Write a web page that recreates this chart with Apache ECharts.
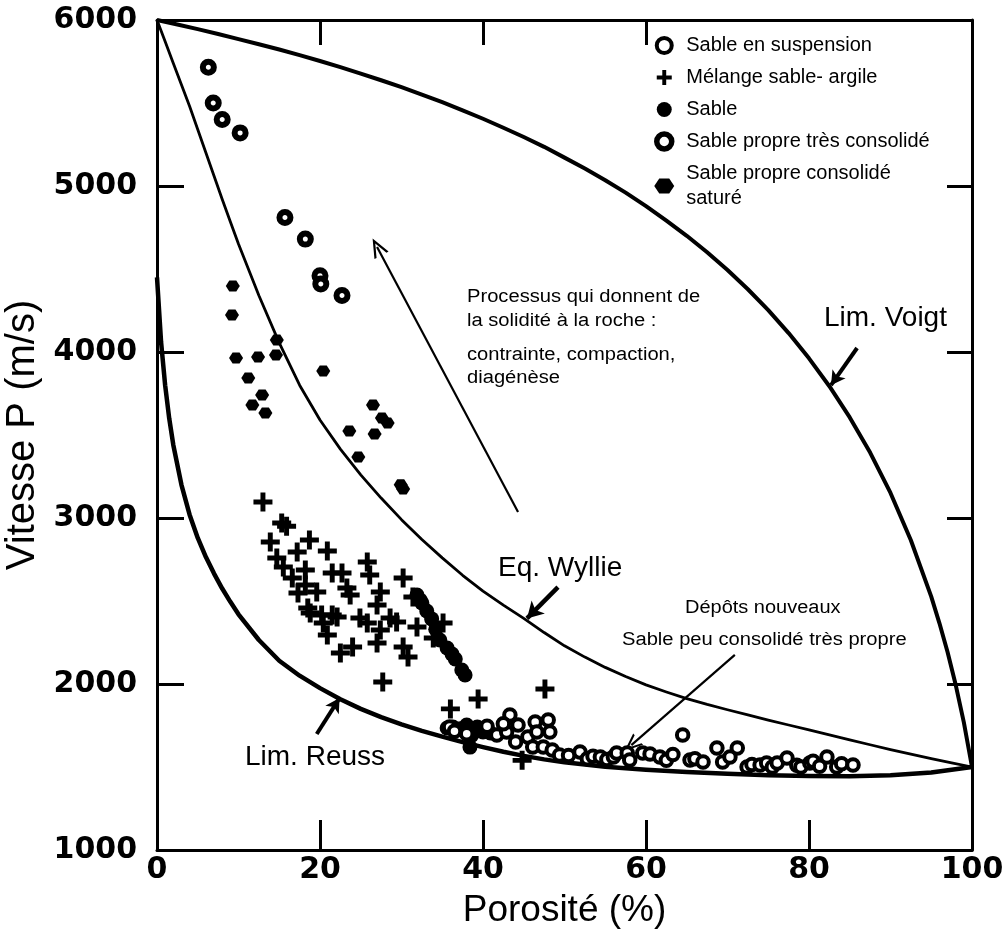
<!DOCTYPE html>
<html><head><meta charset="utf-8">
<script src="https://cdn.jsdelivr.net/npm/echarts@6/dist/echarts.min.js"></script>
<style>html,body{margin:0;padding:0;background:#fff}#c{width:1003px;height:934px}</style>
</head><body><div id="c"></div>
<script>
// ---- axes ----
const xRange = [0, 100];
const yRange = [1000, 6000];
const xStep = 20;
const yStep = 1000;

// ---- bounds / model curves [porosity %, Vp m/s] ----
const voigtCurve = [[0,6000],[2.5,5973],[5,5945],[7.5,5916],[10,5885],[12.5,5854],[15,5822],[17.5,5788],[20,5753],[22.5,5716],[25,5677],[27.5,5637],[30,5595],[32.5,5551],[35,5505],[37.5,5456],[40,5405],[42.5,5351],[45,5295],[47.5,5236],[50,5171],[52.5,5105],[55,5035],[57.5,4960],[60,4879],[62.5,4792],[65,4700],[67.5,4601],[70,4494],[72.5,4378],[75,4252],[77.5,4114],[80,3962],[82.5,3794],[85,3606],[87.5,3394],[90,3151],[92.5,2866],[95,2526],[96,2367],[97,2193],[98,1995],[99,1769],[100,1500]];
const wyllieCurve = [[0,6000],[1,5870],[2,5740],[3,5610],[4,5480],[5,5340],[6,5200],[7,5060],[8,4920],[9,4785],[10,4650],[12.5,4340],[15,4055],[17.5,3800],[20,3590],[22.5,3415],[25,3260],[27.5,3120],[30,2990],[32.5,2870],[35,2760],[37.5,2655],[40,2560],[42.5,2475],[45,2395],[47.5,2310],[50,2230],[52.5,2162],[55,2100],[57.5,2045],[60,1995],[62.5,1952],[65,1912],[67.5,1877],[70,1845],[72.5,1814],[75,1783],[77.5,1753],[80,1723],[82.5,1693],[85,1663],[87.5,1634],[90,1605],[92.5,1577],[95,1550],[97.5,1525],[100,1500]];
const reussCurve = [[0,4450],[0.5,4060],[1,3800],[1.5,3600],[2,3440],[3,3200],[4,3020],[5,2880],[6,2765],[7,2665],[8,2575],[9,2495],[10,2420],[12.5,2265],[15,2140],[17.5,2050],[20,1975],[22.5,1908],[25,1850],[27.5,1800],[30,1757],[32.5,1718],[35,1683],[37.5,1650],[40,1620],[42.5,1592],[45,1567],[47.5,1546],[50,1528],[55,1502],[60,1484],[65,1470],[70,1459],[75,1451],[80,1446],[85,1445],[90,1450],[95,1467],[100,1500]];

// ---- measurements ----
const sableSuspension = [[35.9,1741],[36.5,1715],[38.0,1700],[40.5,1745],[41.7,1693],[42.9,1711],[43.3,1813],[44.3,1753],[45.5,1681],[46.4,1771],[46.6,1711],[48.0,1783],[48.2,1711],[46.1,1620],[47.4,1620],[48.5,1602],[49.4,1572],[44.0,1650],[42.5,1760],[50.5,1570],[51.9,1590],[52.8,1550],[53.5,1565],[54.4,1560],[55.2,1545],[56.0,1560],[56.4,1584],[57.7,1584],[58.0,1542],[59.6,1584],[60.5,1578],[61.7,1560],[62.5,1540],[63.3,1575],[64.5,1693],[65.4,1542],[66.0,1550],[67.0,1530],[68.7,1614],[71.2,1614],[69.4,1530],[70.3,1560],[72.4,1500],[73.0,1515],[74.0,1512],[74.8,1524],[75.5,1500],[76.1,1524],[77.3,1554],[78.5,1510],[79.0,1500],[80.1,1524],[80.5,1535],[81.3,1505],[82.2,1560],[83.4,1500],[84.0,1520],[85.4,1512]];
const melangeSableArgile = [[13.0,3096],[15.3,2970],[15.9,2950],[13.9,2855],[18.7,2867],[20.9,2801],[17.2,2795],[14.7,2759],[15.5,2705],[18.2,2687],[21.5,2669],[22.7,2669],[25.8,2735],[26.1,2657],[16.6,2639],[18.2,2596],[19.6,2554],[23.3,2578],[23.7,2536],[27.4,2554],[30.2,2639],[17.3,2548],[18.5,2458],[18.8,2428],[20.2,2416],[21.5,2416],[22.1,2404],[27.0,2476],[24.9,2398],[28.6,2398],[29.4,2374],[20.4,2368],[25.8,2368],[27.4,2325],[31.9,2343],[20.9,2295],[27.0,2247],[24.0,2223],[22.5,2187],[30.2,2223],[30.8,2163],[33.9,2277],[35.1,2368],[31.4,2524],[27.7,2012],[39.4,1910],[47.6,1970],[36.0,1850],[44.8,1540]];
const sable = [[31.9,2536],[32.3,2505],[32.5,2488],[33.1,2440],[33.7,2392],[34.2,2330],[34.7,2265],[35.6,2217],[36.2,2180],[36.6,2151],[37.4,2084],[37.8,2054],[38.4,1620],[35.6,1735],[36.3,1741],[37.2,1730],[38.0,1753],[39.3,1741],[40.0,1711],[40.9,1705],[38.6,1690]];
const sableTresConsolide = [[6.3,5715],[6.9,5500],[8.0,5400],[10.2,5320],[15.7,4810],[18.2,4680],[20.0,4460],[20.1,4410],[22.7,4340]];
const sableConsolideSature = [[9.3,4398],[9.2,4223],[14.7,4072],[9.7,3964],[12.4,3970],[14.6,3982],[11.2,3843],[12.9,3741],[11.7,3681],[13.3,3633],[20.4,3886],[26.5,3681],[27.6,3602],[28.3,3572],[23.6,3524],[26.7,3506],[24.7,3367],[29.9,3200],[30.2,3175]];

// ---- annotation arrows [from, to] in data coordinates ----
const arrowProcess = [[44.3,3036],[27.0,4633]];
const arrowWyllie = [[49.2,2584],[45.4,2395]];
const arrowVoigt = [[85.9,4024],[82.7,3800]];
const arrowReuss = [[19.6,1699],[22.4,1915]];
const arrowDepots = [[70.9,2175],[58.2,1632]];

const FONT = '"Liberation Sans", Arial, sans-serif';
const NUMFONT = '"DejaVu Sans", sans-serif';
const crossPath = 'path://M3.7,0 H6.3 V3.7 H10 V6.3 H6.3 V10 H3.7 V6.3 H0 V3.7 H3.7 Z';
const hexPath = 'path://M3,0 H9 L12,4.5 L9,9 H3 L0,4.5 Z';
const chevron = 'path://M5,0 L10,12 L8.5,12 L5,3.6 L1.5,12 L0,12 Z';

const names = ['Sable en suspension','Mélange sable- argile','Sable','Sable propre très consolidé','Sable propre consolidé saturé'];

const chart = echarts.init(document.getElementById('c'));

function plain(v){ return String(v); }

function axisCommon(extra){
  return Object.assign({
    type:'value', min:xRange[0], max:xRange[1], interval:xStep,
    splitLine:{show:false},
    axisLine:{show:true, onZero:false, lineStyle:{color:'#000', width:3}},
  }, extra);
}

function arrowLine(a, width, endSymbol, size){
  return [
    {coord:a[0], symbol:'none', lineStyle:{width:width, color:'#000', type:'solid'}},
    {coord:a[1], symbol:endSymbol, symbolSize:size}
  ];
}

const option = {
  animation:false,
  backgroundColor:'#fff',
  textStyle:{fontFamily:FONT, color:'#000'},
  grid:{left:157, right:31, top:20, bottom:84, containLabel:false, outerBoundsMode:'none'},
  xAxis:[
    axisCommon({position:'bottom',
      axisTick:{inside:true, length:30, lineStyle:{color:'#000', width:3}},
      axisLabel:{color:'#000', fontFamily:NUMFONT, fontWeight:'bold', fontSize:30, margin:5, formatter:plain},
      name:'Porosité (%)', nameLocation:'middle', nameGap:42,
      nameTextStyle:{fontFamily:FONT, fontSize:37, color:'#000'}}),
    axisCommon({position:'top',
      axisTick:{inside:true, length:25, lineStyle:{color:'#000', width:3}, customValues:[20,40,60]},
      axisLabel:{show:false}})
  ],
  yAxis:[
    {type:'value', min:yRange[0], max:yRange[1], interval:yStep, position:'left',
      splitLine:{show:false},
      axisLine:{show:true, onZero:false, lineStyle:{color:'#000', width:3}},
      axisTick:{inside:true, length:27, lineStyle:{color:'#000', width:3}},
      axisLabel:{color:'#000', fontFamily:NUMFONT, fontWeight:'bold', fontSize:30, margin:20, formatter:plain},
      name:'Vitesse P (m/s)', nameLocation:'middle', nameGap:112,
      nameTextStyle:{fontFamily:FONT, fontSize:40, color:'#000'}},
    {type:'value', min:yRange[0], max:yRange[1], interval:yStep, position:'right',
      splitLine:{show:false},
      axisLine:{show:true, onZero:false, lineStyle:{color:'#000', width:3}},
      axisTick:{inside:true, length:25, lineStyle:{color:'#000', width:3}},
      axisLabel:{show:false}}
  ],
  legend:{
    orient:'vertical', left:654, top:33, padding:0, itemGap:7,
    itemWidth:34, itemHeight:15,
    textStyle:{fontFamily:FONT, fontSize:20, color:'#000', lineHeight:25},
    formatter:function(n){ return n === names[4] ? 'Sable propre consolidé\nsaturé' : n; },
    data:[
      {name:names[0], icon:'circle', itemStyle:{color:'#fff', borderColor:'#000', borderWidth:4, opacity:1}},
      {name:names[1], icon:crossPath, itemStyle:{color:'#000', borderWidth:0, opacity:1}},
      {name:names[2], icon:'circle', itemStyle:{color:'#000', borderWidth:0, opacity:1}},
      {name:names[3], icon:'circle', itemStyle:{color:'#fff', borderColor:'#000', borderWidth:5.5, opacity:1}},
      {name:names[4], icon:hexPath, itemStyle:{color:'#000', borderWidth:0, opacity:1}}
    ]
  },
  graphic:[
    {type:'text', left:467, top:288, scaleX:1.12, style:{text:'Processus qui donnent de', font:'18px '+FONT, fill:'#000'}},
    {type:'text', left:467, top:312, scaleX:1.12, style:{text:'la solidité à la roche :', font:'18px '+FONT, fill:'#000'}},
    {type:'text', left:467, top:346, scaleX:1.12, style:{text:'contrainte, compaction,', font:'18px '+FONT, fill:'#000'}},
    {type:'text', left:467, top:369, scaleX:1.12, style:{text:'diagénèse', font:'18px '+FONT, fill:'#000'}},
    {type:'text', left:824, top:304, style:{text:'Lim. Voigt', font:'28px '+FONT, fill:'#000'}},
    {type:'text', left:498, top:554, style:{text:'Eq. Wyllie', font:'28px '+FONT, fill:'#000'}},
    {type:'text', left:245, top:743, style:{text:'Lim. Reuss', font:'28px '+FONT, fill:'#000'}},
    {type:'text', left:685, top:599, scaleX:1.11, style:{text:'Dépôts nouveaux', font:'18px '+FONT, fill:'#000'}},
    {type:'text', left:622, top:631, scaleX:1.12, style:{text:'Sable peu consolidé très propre', font:'18px '+FONT, fill:'#000'}}
  ],
  series:[
    {name:'Lim. Voigt', type:'line', data:voigtCurve, smooth:false, symbol:'none', silent:true,
      lineStyle:{color:'#000', width:4, join:'round'}, z:3},
    {name:'Eq. Wyllie', type:'line', data:wyllieCurve, smooth:false, symbol:'none', silent:true,
      lineStyle:{color:'#000', width:2.8, join:'round'}, z:3,
      markLine:{silent:true, animation:false, label:{show:false}, symbol:['none','arrow'],
        data:[
          arrowLine(arrowProcess, 2.2, chevron, [16,19]),
          arrowLine(arrowWyllie, 4.5, 'arrow', [14,16]),
          arrowLine(arrowVoigt, 4, 'arrow', [12,14]),
          arrowLine(arrowReuss, 4, 'arrow', [12,14]),
          arrowLine(arrowDepots, 2.2, chevron, [15,18])
        ]}},
    {name:'Lim. Reuss', type:'line', data:reussCurve, smooth:false, symbol:'none', silent:true,
      lineStyle:{color:'#000', width:4.5, join:'round'}, z:3},
    {name:names[1], type:'scatter', data:melangeSableArgile, symbol:crossPath, symbolSize:19,
      itemStyle:{color:'#000', opacity:1}, z:4},
    {name:names[2], type:'scatter', data:sable, symbol:'circle', symbolSize:15,
      itemStyle:{color:'#000', opacity:1}, z:4},
    {name:names[0], type:'scatter', data:sableSuspension, symbol:'circle', symbolSize:11.5,
      itemStyle:{color:'#fff', borderColor:'#000', borderWidth:4, opacity:1}, z:5},
    {name:names[3], type:'scatter', data:sableTresConsolide, symbol:'circle', symbolSize:11,
      itemStyle:{color:'#fff', borderColor:'#000', borderWidth:6, opacity:1}, z:5},
    {name:names[4], type:'scatter', data:sableConsolideSature, symbol:hexPath, symbolSize:[14,11],
      itemStyle:{color:'#000', opacity:1}, z:5}
  ]
};
chart.setOption(option);
</script>
</body></html>
